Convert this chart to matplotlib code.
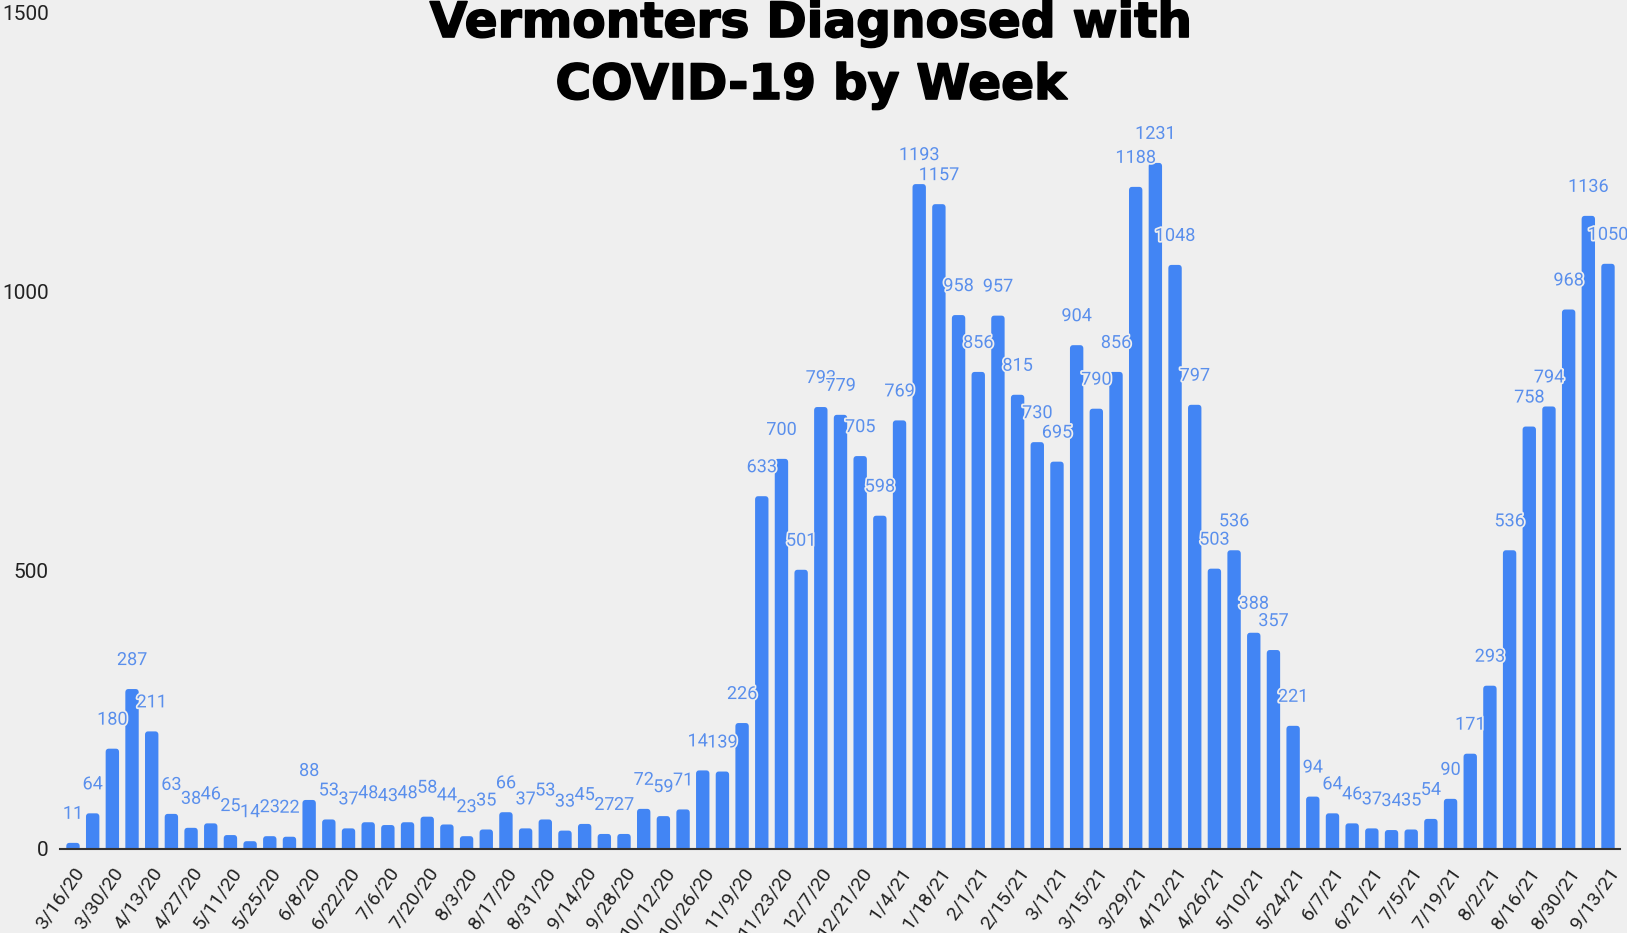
import matplotlib
matplotlib.use("Agg")
import matplotlib.pyplot as plt
import matplotlib.patheffects as pe
from matplotlib.patches import FancyBboxPatch

weeks = ["3/16/20","3/23/20","3/30/20","4/6/20","4/13/20","4/20/20","4/27/20","5/4/20","5/11/20","5/18/20",
         "5/25/20","6/1/20","6/8/20","6/15/20","6/22/20","6/29/20","7/6/20","7/13/20","7/20/20","7/27/20",
         "8/3/20","8/10/20","8/17/20","8/24/20","8/31/20","9/7/20","9/14/20","9/21/20","9/28/20","10/5/20",
         "10/12/20","10/19/20","10/26/20","11/2/20","11/9/20","11/16/20","11/23/20","11/30/20","12/7/20","12/14/20",
         "12/21/20","12/28/20","1/4/21","1/11/21","1/18/21","1/25/21","2/1/21","2/8/21","2/15/21","2/22/21",
         "3/1/21","3/8/21","3/15/21","3/22/21","3/29/21","4/5/21","4/12/21","4/19/21","4/26/21","5/3/21",
         "5/10/21","5/17/21","5/24/21","5/31/21","6/7/21","6/14/21","6/21/21","6/28/21","7/5/21","7/12/21",
         "7/19/21","7/26/21","8/2/21","8/9/21","8/16/21","8/23/21","8/30/21","9/6/21","9/13/21"]
cases = [11,64,180,287,211,63,38,46,25,14,
         23,22,88,53,37,48,43,48,58,44,
         23,35,66,37,53,33,45,27,27,72,
         59,71,141,139,226,633,700,501,793,779,
         705,598,769,1193,1157,958,856,957,815,730,
         695,904,790,856,1188,1231,1048,797,503,536,
         388,357,221,94,64,46,37,34,35,54,
         90,171,293,536,758,794,968,1136,1050]
yticks = [0, 500, 1000, 1500]

BG = "#efefef"
BAR = "#4285f4"
LBL = "#5a8fec"

plt.rcParams['font.family'] = ['Roboto', 'DejaVu Sans']

W, H = 1627, 933
fig = plt.figure(figsize=(W/100, H/100), dpi=100, facecolor=BG)
ax = fig.add_axes([60/W, (H-849)/H, (1620-60)/W, (849-13)/H])
ax.set_facecolor(BG)

x = list(range(len(cases)))
bars = ax.bar(x, cases, width=0.68, color=BAR, zorder=2)
ax.set_xlim(-0.66, 78.61)
ax.set_ylim(0, 1500)

# rounded tops
rx = 0.16
aspect = 36.0
for p in bars.patches:
    p.set_visible(False)
    fb = FancyBboxPatch((p.get_x(), -15), p.get_width(), p.get_height() + 15,
                        boxstyle=f"round,pad=0,rounding_size={rx}",
                        mutation_aspect=aspect, facecolor=BAR, edgecolor='none', zorder=2)
    ax.add_patch(fb)

for xi, v in zip(x, cases):
    ax.annotate(str(v), (xi, v), xytext=(0, 29), textcoords='offset pixels',
                ha='center', va='center', fontsize=13, color=LBL, zorder=3,
                path_effects=[pe.withStroke(linewidth=2.5, foreground=BG)])

for s in ['top', 'right', 'left']:
    ax.spines[s].set_visible(False)
ax.spines['bottom'].set_color('#333333')
ax.spines['bottom'].set_linewidth(1.5)
ax.spines['bottom'].set_zorder(4)

ax.set_yticks(yticks)
ax.set_yticklabels([str(t) for t in yticks], fontsize=15, color='#222222')
ax.tick_params(axis='y', length=0, pad=8)
ax.set_xticks(x[::2])
ax.set_xticklabels(weeks[::2], rotation=55, ha='right', va='top', rotation_mode='anchor',
                   fontsize=14, color='#222222')
ax.tick_params(axis='x', length=0, pad=11)

title_fx = [pe.withStroke(linewidth=1.2, foreground='black')]
fig.text(0.4985, 1 - 23/H, "Vermonters Diagnosed with", ha='center', va='center',
         fontsize=35, fontweight='bold', family=['DejaVu Sans'], color='black',
         path_effects=title_fx)
fig.text(0.4985, 1 - 85/H, "COVID-19 by Week", ha='center', va='center',
         fontsize=35, fontweight='bold', family=['DejaVu Sans'], color='black',
         path_effects=title_fx)

fig.savefig("out.png", dpi=100, facecolor=BG)
